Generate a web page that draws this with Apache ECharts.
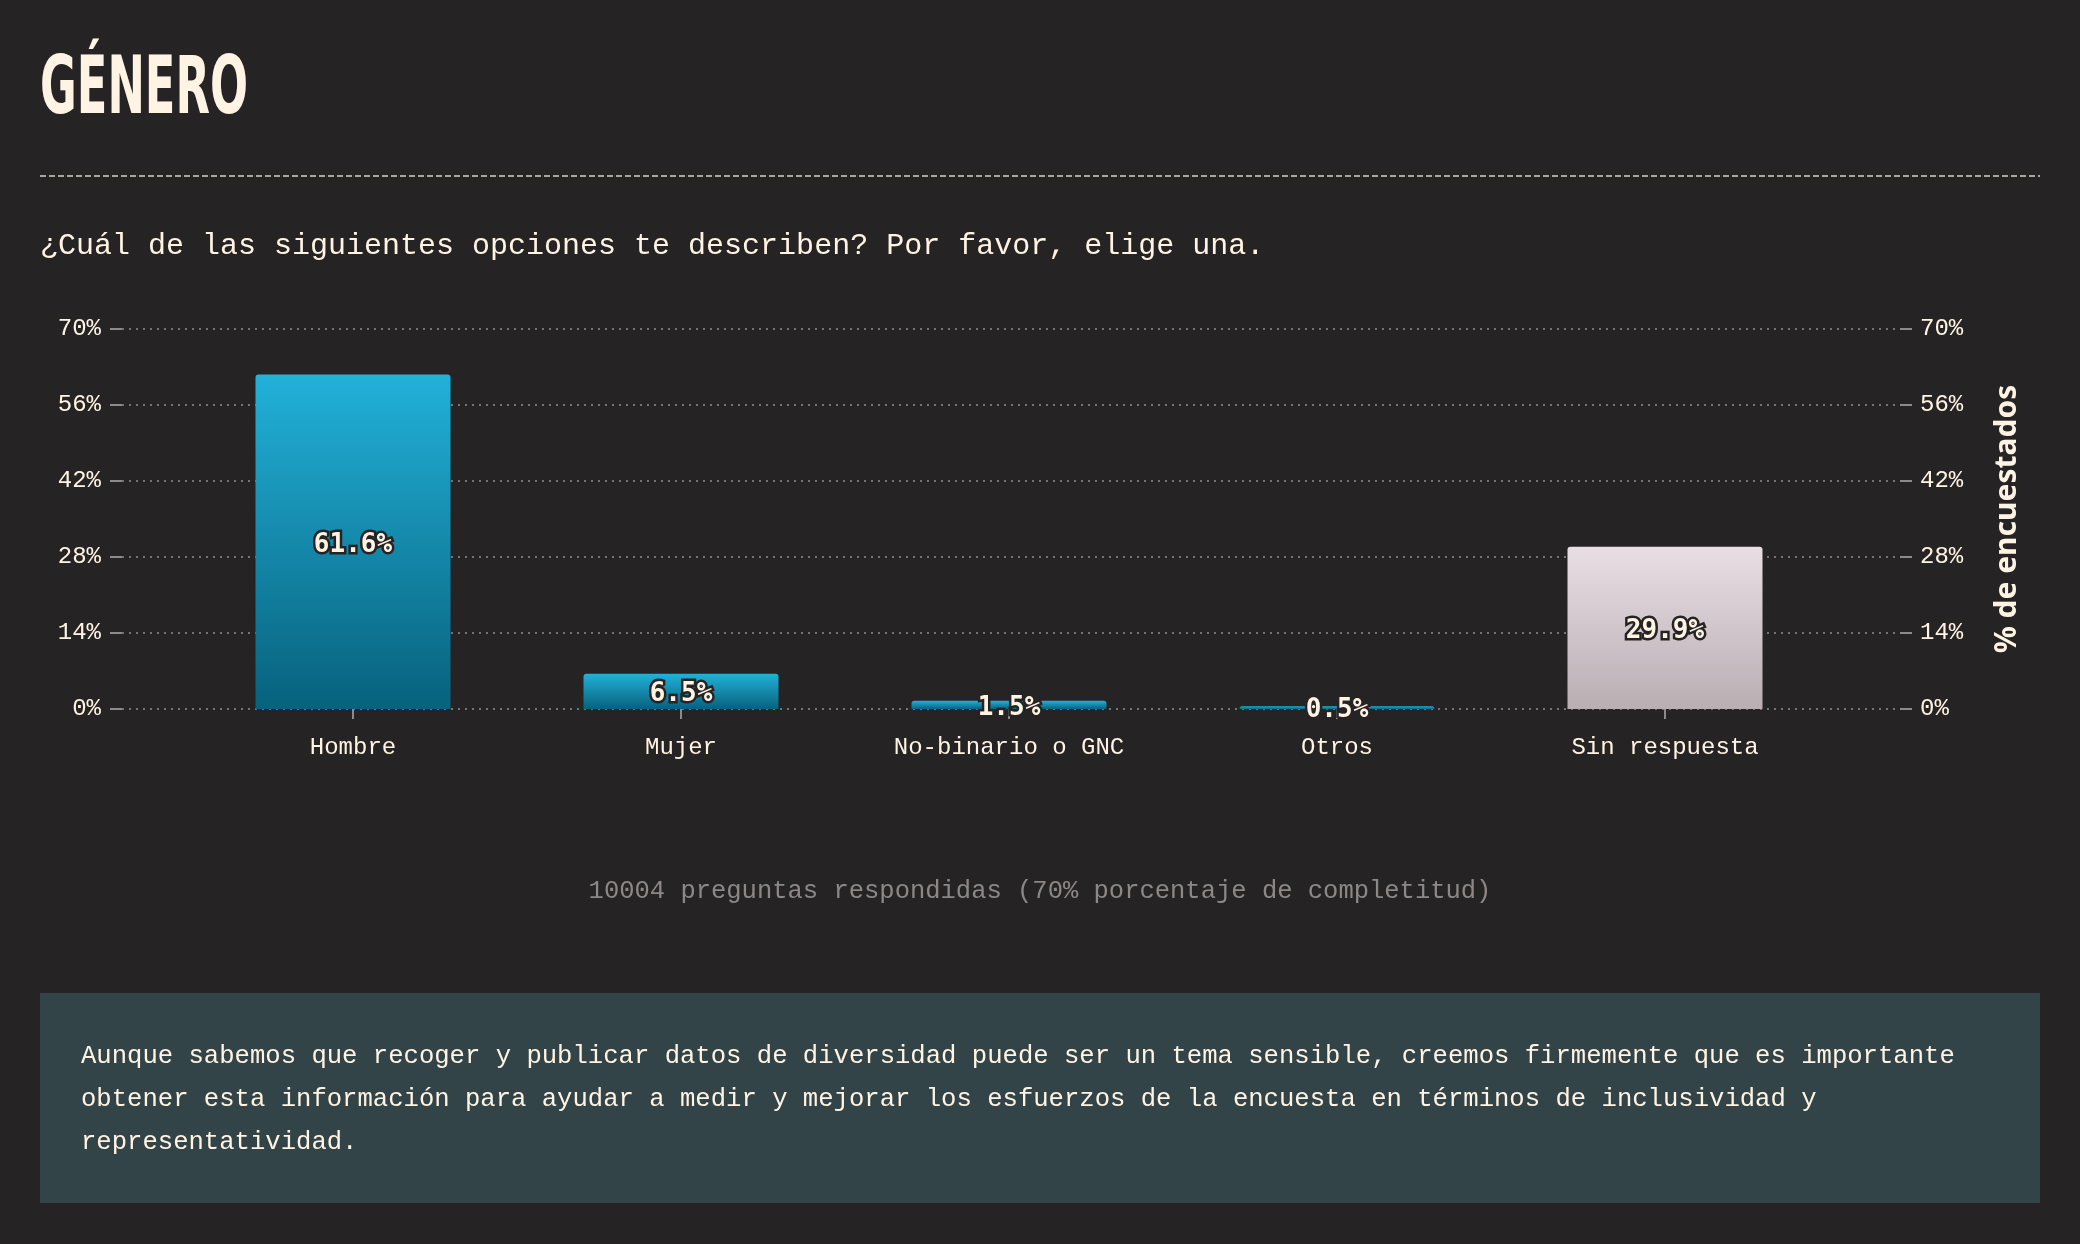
<!DOCTYPE html>
<html>
<head>
<meta charset="utf-8">
<script src="https://cdn.jsdelivr.net/npm/echarts@6/dist/echarts.min.js"></script>
<style>
html,body{margin:0;padding:0;background:#262324;}
#chart{width:2080px;height:1244px;}
</style>
</head>
<body>
<div id="chart"></div>
<script>
var categories = ['Hombre', 'Mujer', 'No-binario o GNC', 'Otros', 'Sin respuesta'];
var percentValues = [61.6, 6.5, 1.5, 0.5, 29.9];
var yTicks = [0, 14, 28, 42, 56, 70];
var titleText = 'GÉNERO';
var questionText = '¿Cuál de las siguientes opciones te describen? Por favor, elige una.';
var footerText = '10004 preguntas respondidas (70% porcentaje de completitud)';
var noteLines = [
  'Aunque sabemos que recoger y publicar datos de diversidad puede ser un tema sensible, creemos firmemente que es importante',
  'obtener esta información para ayudar a medir y mejorar los esfuerzos de la encuesta en términos de inclusividad y',
  'representatividad.'
];
var axisName = '% de encuestados';

var MONO = '"Liberation Mono", "DejaVu Sans Mono", monospace';
var CREAM = '#fff4e3';
var BG = '#262324';

function grad(top, bottom) {
  return new echarts.graphic.LinearGradient(0, 0, 0, 1, [
    {offset: 0, color: top}, {offset: 1, color: bottom}
  ]);
}
var blueGrad = grad('#22b1d9', '#07627d');
var greyGrad = grad('#e9dee3', '#b9afb3');

var barData = percentValues.map(function (v, i) {
  return {
    value: v,
    itemStyle: {color: categories[i] === 'Sin respuesta' ? greyGrad : blueGrad}
  };
});

var chart = echarts.init(document.getElementById('chart'), null, {renderer: 'canvas'});

var yMin = yTicks[0], yMax = yTicks[yTicks.length - 1], yStep = yTicks[1] - yTicks[0];

var option = {
  backgroundColor: BG,
  animation: false,
  grid: [
    {left: 122, right: 180, top: 329, bottom: 535},
    {left: 189, right: 251, top: 329, bottom: 535}
  ],
  xAxis: [
    {gridIndex: 0, type: 'value', show: false, min: 0, max: 1},
    {
      gridIndex: 1, type: 'category', data: categories,
      axisLine: {show: false},
      axisTick: {show: true, alignWithLabel: true, length: 10, lineStyle: {color: '#8c8a8a', width: 2}},
      axisLabel: {color: CREAM, fontFamily: MONO, fontSize: 24, margin: 27}
    }
  ],
  yAxis: [
    {
      gridIndex: 0, type: 'value', position: 'left', min: yMin, max: yMax, interval: yStep,
      axisLine: {show: false},
      axisTick: {show: true, length: 12, lineStyle: {color: '#8c8a8a', width: 2}},
      axisLabel: {color: CREAM, fontFamily: MONO, fontSize: 24, margin: 21, formatter: '{value}%'},
      splitLine: {show: true, lineStyle: {color: '#777372', width: 2, type: [2, 5]}}
    },
    {
      gridIndex: 0, type: 'value', position: 'right', min: yMin, max: yMax, interval: yStep,
      axisLine: {show: false},
      axisTick: {show: true, length: 12, lineStyle: {color: '#8c8a8a', width: 2}},
      axisLabel: {color: CREAM, fontFamily: MONO, fontSize: 24, margin: 20, formatter: '{value}%'},
      splitLine: {show: false},
      name: axisName, nameLocation: 'middle', nameRotate: 90, nameGap: 92,
      nameTextStyle: {color: CREAM, fontFamily: '"Noto Sans", "Open Sans", sans-serif', fontWeight: 'bold', fontSize: 30}
    },
    {gridIndex: 1, type: 'value', show: false, min: yMin, max: yMax, interval: yStep}
  ],
  series: [{
    type: 'bar', xAxisIndex: 1, yAxisIndex: 2,
    data: barData,
    barWidth: 195,
    itemStyle: {borderRadius: [3, 3, 0, 0]},
    label: {
      show: true, position: 'inside', offset: [0, 3],
      formatter: function (p) { return p.value.toFixed(1) + '%'; },
      color: CREAM, fontFamily: '"DejaVu Sans Mono", monospace', fontWeight: 'bold', fontSize: 26,
      textBorderColor: BG, textBorderWidth: 5
    }
  }],
  graphic: [
    {
      type: 'text', left: 40, top: 52, scaleX: 0.56,
      style: {text: titleText, fill: CREAM, font: 'bold 80px "DejaVu Sans", sans-serif'}
    },
    {
      type: 'line', shape: {x1: 40, y1: 176, x2: 2040, y2: 176},
      style: {stroke: '#d9d1c9', lineWidth: 1.5, lineDash: [6, 3]}
    },
    {
      type: 'text', left: 40, top: 231,
      style: {text: questionText, fill: CREAM, font: '30px ' + MONO}
    },
    {
      type: 'text', x: 1040, y: 891,
      style: {text: footerText, fill: '#8d8787', font: '25.5px ' + MONO, align: 'center', verticalAlign: 'middle'}
    },
    {
      type: 'rect', shape: {x: 40, y: 993, width: 2000, height: 210},
      style: {fill: '#324448'}
    },
    {
      type: 'text', x: 81, y: 1099,
      style: {text: noteLines.join('\n'), fill: CREAM, font: '25.6px ' + MONO, lineHeight: 43, verticalAlign: 'middle'}
    }
  ]
};
chart.setOption(option);
</script>
</body>
</html>
